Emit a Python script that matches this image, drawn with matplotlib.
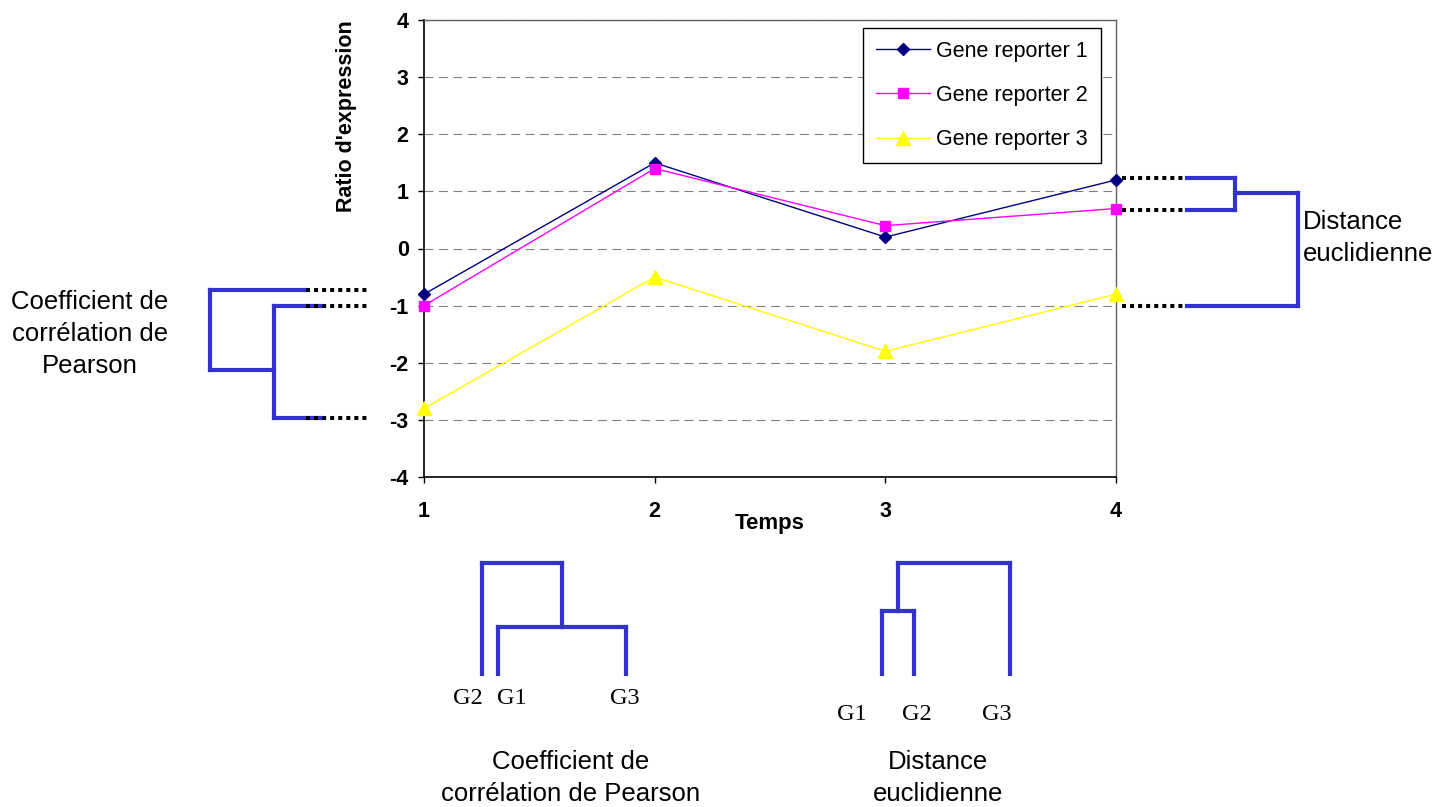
import matplotlib
matplotlib.use("Agg")
import matplotlib.pyplot as plt

plt.rcParams["font.family"] = ["Liberation Sans", "DejaVu Sans"]
plt.rcParams["axes.unicode_minus"] = False

# ---------------------------------------------
# Data
# ---------------------------------------------
temps = [1, 2, 3, 4]
gene1 = [-0.8, 1.5, 0.2, 1.2]
gene2 = [-1.0, 1.4, 0.4, 0.7]
gene3 = [-2.8, -0.5, -1.8, -0.8]
series_names = ["Gene reporter 1", "Gene reporter 2", "Gene reporter 3"]
y_ticks = [-4, -3, -2, -1, 0, 1, 2, 3, 4]

# dendrogram leaf names
pearson_leaves = ["G2", "G1", "G3"]
euclid_leaves = ["G1", "G2", "G3"]

W, H = 1453, 807
BLUE = "#3333cc"

# ---------------------------------------------
# Main chart
# ---------------------------------------------
fig = plt.figure(figsize=(W / 100, H / 100), dpi=100)
ax = fig.add_axes([424 / W, 330 / H, 692 / W, 457 / H])

ax.plot(temps, gene1, color="#000080", lw=1.0, marker="D", ms=6.3,
        label=series_names[0], clip_on=False, zorder=4)
ax.plot(temps, gene2, color="#ff00ff", lw=1.0, marker="s", ms=7.5,
        label=series_names[1], clip_on=False, zorder=4)
ax.plot(temps, gene3, color="#ffff00", lw=1.0, marker="^", ms=9.5,
        label=series_names[2], clip_on=False, zorder=4)

ax.set_xlim(1, 4)
ax.set_ylim(-4, 4)
ax.set_xticks(temps)
ax.set_yticks(y_ticks)
ax.tick_params(direction="out", length=4, width=1, labelsize=15.5)
ax.tick_params(axis="y", pad=7)
ax.tick_params(axis="x", pad=13)
for lab in ax.get_xticklabels() + ax.get_yticklabels():
    lab.set_fontweight("bold")

ax.grid(axis="y", color="#808080", lw=0.8, linestyle=(0, (8, 5)))
ax.set_axisbelow(True)
for s in ["left", "bottom"]:
    ax.spines[s].set_color("black")
    ax.spines[s].set_linewidth(1.2)
for s in ["top", "right"]:
    ax.spines[s].set_color("#606060")
    ax.spines[s].set_linewidth(1.0)

ax.set_ylabel("Ratio d'expression", fontsize=15.5, fontweight="bold")
ax.yaxis.set_label_coords(-0.097, 0.79)
ax.set_xlabel("Temps", fontsize=16, fontweight="bold")
ax.xaxis.set_label_coords(0.5, -0.078)

leg = ax.legend(loc="upper right", bbox_to_anchor=(0.978, 0.983),
                borderaxespad=0, fontsize=15.5, fancybox=False,
                edgecolor="black", framealpha=1, handlelength=2.5,
                handletextpad=0.3, labelspacing=1.08, borderpad=0.6)
leg.get_frame().set_linewidth(1.0)

# ---------------------------------------------
# Dendrogram overlay (figure pixels)
# ---------------------------------------------
ov = fig.add_axes([0, 0, 1, 1], zorder=5)
ov.set_xlim(0, W)
ov.set_ylim(H, 0)
ov.axis("off")
ov.patch.set_visible(False)


def tree3(pair, single, base, h_pair, h_top, join, horizontal=False):
    b0, b1, b2 = base
    segs = [
        ((pair[0], b0), (pair[0], h_pair)),
        ((pair[1], b1), (pair[1], h_pair)),
        ((pair[0], h_pair), (pair[1], h_pair)),
        ((join, h_pair), (join, h_top)),
        ((single, b2), (single, h_top)),
        ((single, h_top), (join, h_top)),
    ]
    for (a0, v0), (a1, v1) in segs:
        if horizontal:
            xs, ys = [v0, v1], [a0, a1]
        else:
            xs, ys = [a0, a1], [v0, v1]
        ov.plot(xs, ys, color=BLUE, lw=3.0, solid_capstyle="projecting")


def dotted(ys, x0, x1):
    for y in ys:
        ov.plot([x0, x1], [y, y], color="black", lw=2.9,
                linestyle=(0, (1, 1)), dash_capstyle="butt", zorder=6)


# left: Pearson (G1 alone, G2 + G3 paired)
tree3(pair=(306, 418), single=290, base=(321, 321, 306),
      h_pair=274, h_top=210, join=370, horizontal=True)
dotted([290, 306, 418], 306, 368)

# right: euclidean (G1 + G2 paired, G3 alone)
tree3(pair=(178, 210), single=306, base=(1187, 1187, 1187),
      h_pair=1235, h_top=1298, join=193, horizontal=True)
dotted([178, 210, 306], 1122, 1184)

# bottom: Pearson
tree3(pair=(498, 626), single=482, base=(674, 674, 674),
      h_pair=627, h_top=563, join=562)
for name, x in zip(pearson_leaves, [468, 512, 625]):
    ov.text(x, 698, name, ha="center", va="center", fontsize=17.5,
            family="Liberation Serif")

# bottom: euclidean
tree3(pair=(882, 914), single=1010, base=(674, 674, 674),
      h_pair=611, h_top=563, join=898)
for name, x in zip(euclid_leaves, [852, 917, 997]):
    ov.text(x, 715, name, ha="center", va="center", fontsize=17.5,
            family="Liberation Serif")

# captions
ov.text(90, 334, "Coefficient de\ncorrélation de\nPearson", ha="center",
        va="center", fontsize=18.5, linespacing=1.4)
ov.text(1303, 238, "Distance\neuclidienne", ha="left", va="center",
        fontsize=18.5, linespacing=1.4)
ov.text(571, 778, "Coefficient de\ncorrélation de Pearson", ha="center",
        va="center", fontsize=18.5, linespacing=1.4)
ov.text(938, 778, "Distance\neuclidienne", ha="center", va="center",
        fontsize=18.5, linespacing=1.4)

fig.savefig("out.png", dpi=100)
